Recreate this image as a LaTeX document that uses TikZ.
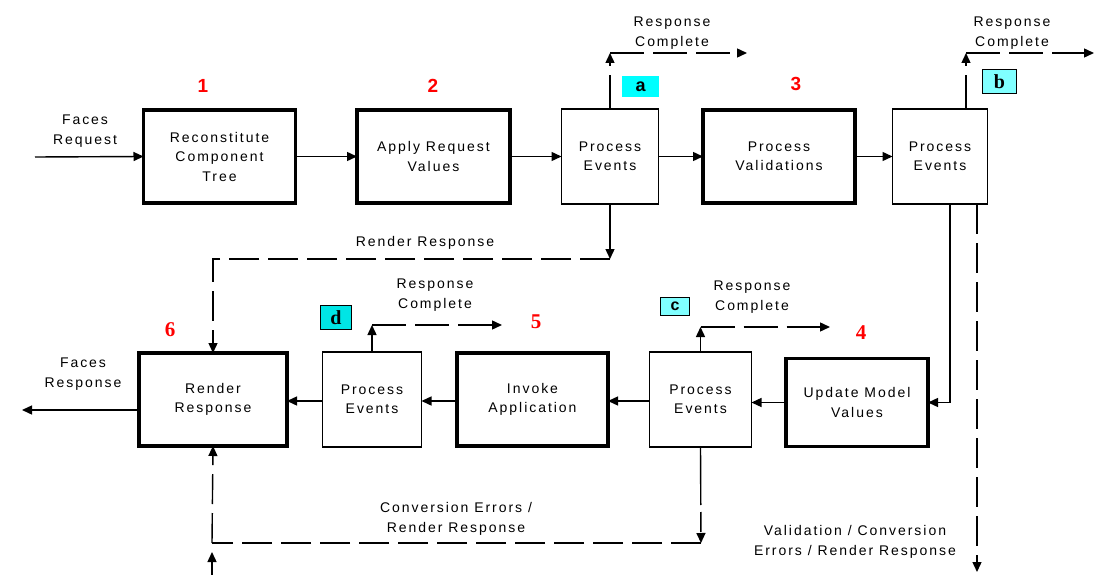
\documentclass[tikz,border=0pt]{standalone}
\usepackage{fontspec}
\setmainfont{Liberation Sans}[LetterSpace=14]
\newfontfamily\numserif{Liberation Serif}
\usetikzlibrary{arrows.meta,calc}
\definecolor{tagcyan}{RGB}{0,255,255}
\definecolor{tagpale}{RGB}{128,255,255}
\begin{document}
\begin{tikzpicture}[x=1pt,y=-1pt,
  every node/.style={inner sep=0pt,outer sep=0pt,align=center,font=\fontsize{14}{19.5}\selectfont},
  phase/.style={draw,line width=3.6pt,fill=white,minimum height=93pt},
  evbox/.style={draw,line width=1.3pt,fill=white,minimum height=95pt},
  arr/.style={line width=1.4pt,-{Triangle[length=10pt,width=9pt]}},
  plain/.style={line width=1.4pt},
  longdash/.style={dash pattern=on 30pt off 9pt},
  respdash/.style={dash pattern=on 34pt off 9pt},
  num/.style={text=red,font=\fontsize{19}{19}\selectfont\bfseries},
  numb/.style={text=red,font=\fontsize{21}{21}\numserif\bfseries},
  tag/.style={draw,line width=1pt}]
\useasboundingbox (0,0) rectangle (1096,575);

% ---- top row ----
\node[phase,minimum width=152pt] (rct) at (219.5,156.5) {Reconstitute\\Component\\Tree};
\node[phase,minimum width=153pt] (arv) at (433.5,156.5) {Apply Request\\Values};
\node[evbox,minimum width=97pt]  (pea) at (610,156.5) {Process\\Events};
\node[phase,minimum width=152pt] (pv)  at (779,156.5) {Process\\Validations};
\node[evbox,minimum width=95pt]  (peb) at (940,156.5) {Process\\Events};

% ---- bottom row ----
\node[phase,minimum width=148pt] (rr)  at (213,399.5) {Render\\Response};
\node[evbox,minimum width=99pt]  (ped) at (372,399.5) {Process\\Events};
\node[phase,minimum width=151pt] (ia)  at (532.5,399.5) {Invoke\\Application};
\node[evbox,minimum width=102pt] (pec) at (700.5,399.5) {Process\\Events};
\node[phase,minimum width=142pt,minimum height=88pt] (umv) at (857,402.5) {Update Model\\Values};

% ---- phase numbers ----
\node[num]  (n1) at (203,86) {1};
\node[num]  (n2) at (433,86) {2};
\node[num]  (n3) at (796,84) {3};
\node[numb] (n4) at (861,333) {4};
\node[numb] (n5) at (536,322) {5};
\node[numb] (n6) at (170,330) {6};

% ---- event tags ----
\node[fill=tagcyan,minimum width=37pt,minimum height=21pt,font=\fontsize{18}{18}\selectfont\bfseries] (ta) at (640.5,86.5) {a};
\node[tag,fill=tagpale,minimum width=34pt,minimum height=24pt,font=\fontsize{20}{20}\numserif\bfseries] (tb) at (999.5,81.5) {b};
\node[tag,fill=tagpale,minimum width=29pt,minimum height=18pt,font=\fontsize{16}{16}\selectfont\bfseries] (tc) at (675,306.5) {c};
\node[tag,fill=tagcyan!90!black,minimum width=31pt,minimum height=24pt,font=\fontsize{20}{20}\numserif\bfseries] (td) at (336,317.5) {d};

% ---- free ends ----
\coordinate (fin)  at (35,157);
\coordinate (fout) at (22,410);
\coordinate (rca)  at (747,53);
\coordinate (rcb)  at (1094,53);
\coordinate (rcc)  at (830,327);
\coordinate (rcd)  at (502,325);
\coordinate (rrj)  at (610,259);
\coordinate (cej)  at (701,543);
\coordinate (cel)  at (212,543);
\coordinate (cup)  at (212,552);
\coordinate (bot)  at (212,575);
\coordinate (vbe)  at (977,572);

% ---- main flow ----
\draw[arr] (fin) -- (rct.west);
\draw[arr] (rct.east) -- (arv.west);
\draw[arr] (arv.east) -- (pea.west);
\draw[arr] (pea.east) -- (pv.west);
\draw[arr] (pv.east) -- (peb.west);
\draw[arr] ($(peb.south)+(10,0)$) |- (umv.east);
\draw[arr] (umv.west) -- (umv.west -| pec.east);
\draw[arr] (pec.west |- 0,401) -- (ia.east |- 0,401);
\draw[arr] (ia.west |- 0,401) -- (ped.east |- 0,401);
\draw[arr] (ped.west |- 0,401) -- (rr.east |- 0,401);
\draw[arr] (rr.west |- fout) -- (fout);

% ---- response complete exits ----
\draw[arr,respdash] (pea.north) -- (pea.north |- rca);
\draw[arr,respdash] (pea.north |- rca) -- (rca);
\draw[arr,respdash] ($(peb.north)+(26,0)$) -- ($(peb.north |- rcb)+(26,0)$);
\draw[arr,respdash] ($(peb.north |- rcb)+(26,0)$) -- (rcb);
\draw[arr] (pec.north) -- (pec.north |- rcc);
\draw[arr,respdash] (pec.north |- rcc) -- (rcc);
\draw[arr] (ped.north) -- (ped.north |- rcd);
\draw[arr,respdash] (ped.north |- rcd) -- (rcd);

% ---- render response paths ----
\draw[arr] (pea.south) -- (rrj);
\draw[arr,longdash] (rrj) -| (rr.north);
\draw[arr,dash pattern=on 58pt off 7pt on 20pt off 7pt] (pec.south) -- (cej);
\draw[plain,longdash] (cej) -- (cel);
\draw[arr,longdash] (cel) -- (rr.south);
\draw[arr,longdash] (bot) -- (cup);
\draw[arr,longdash] ($(peb.south)+(37,0)$) -- (vbe);

% ---- labels ----
\node (lfr) at (85,131) {Faces\\Request};
\node (lfo) at (83,374) {Faces\\Response};
\node (lra) at (672,33) {Response\\Complete};
\node (lrb) at (1012,33) {Response\\Complete};
\node (lrd) at (435,295) {Response\\Complete};
\node (lrc) at (752,297) {Response\\Complete};
\node (lrr) at (425,243) {Render Response};
\node (lce) at (456,519) {Conversion Errors /\\Render Response};
\node (lvc) at (855,542) {Validation / Conversion\\Errors / Render Response};
\end{tikzpicture}
\end{document}
